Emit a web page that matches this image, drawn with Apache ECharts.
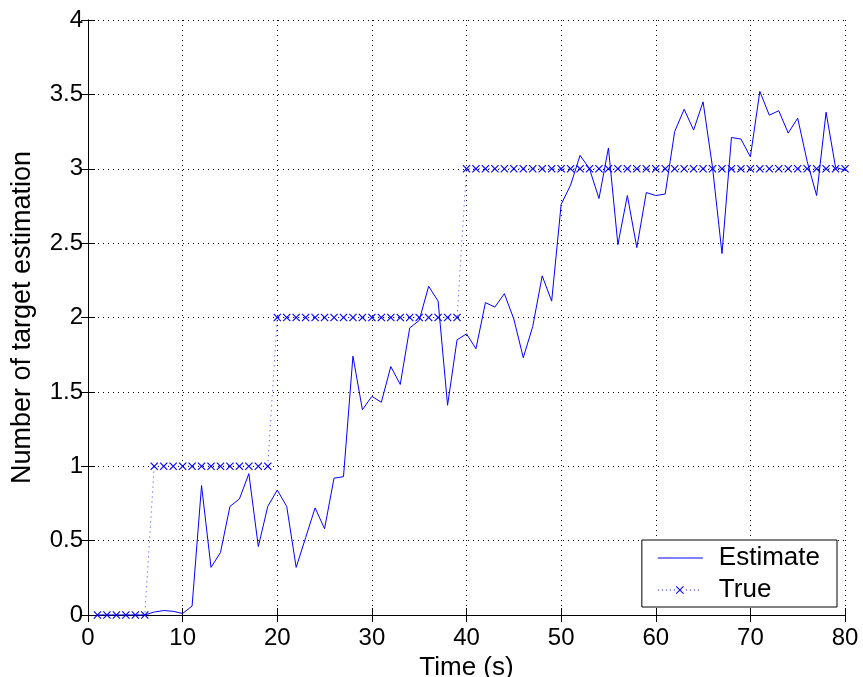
<!DOCTYPE html>
<html>
<head>
<meta charset="utf-8">
<script src="https://cdn.jsdelivr.net/npm/echarts@6/dist/echarts.min.js"></script>
<style>
  html, body { margin: 0; padding: 0; background: #fff; }
  #chart_targets { width: 863px; height: 677px; }
</style>
</head>
<body>
<div id="chart_targets"></div>
<script>
// time steps in seconds
var timeSteps = [];
for (var i = 1; i <= 80; i++) timeSteps.push(i);

var estimateValues = [
  0, 0, 0, 0, 0, 0, 0.02, 0.03, 0.025, 0.01,
  0.06, 0.87, 0.32, 0.42, 0.73, 0.78, 0.95, 0.46, 0.73, 0.84,
  0.73, 0.32, 0.52, 0.72, 0.58, 0.92, 0.93, 1.74, 1.38, 1.47,
  1.43, 1.67, 1.55, 1.93, 1.98, 2.21, 2.11, 1.41, 1.85, 1.89,
  1.79, 2.10, 2.07, 2.16, 1.99, 1.73, 1.94, 2.28, 2.11, 2.76,
  2.89, 3.09, 3.00, 2.80, 3.14, 2.49, 2.82, 2.47, 2.84, 2.82,
  2.83, 3.25, 3.40, 3.26, 3.45, 3.01, 2.43, 3.21, 3.20, 3.08,
  3.52, 3.36, 3.39, 3.24, 3.34, 3.05, 2.82, 3.38, 3.01, 2.99
];

var trueValues = [
  0, 0, 0, 0, 0, 0, 1, 1, 1, 1,
  1, 1, 1, 1, 1, 1, 1, 1, 1, 2,
  2, 2, 2, 2, 2, 2, 2, 2, 2, 2,
  2, 2, 2, 2, 2, 2, 2, 2, 2, 3,
  3, 3, 3, 3, 3, 3, 3, 3, 3, 3,
  3, 3, 3, 3, 3, 3, 3, 3, 3, 3,
  3, 3, 3, 3, 3, 3, 3, 3, 3, 3,
  3, 3, 3, 3, 3, 3, 3, 3, 3, 3
];

var seriesNames = ['Estimate', 'True'];

function pairs(vals) {
  return timeSteps.map(function (t, i) { return [t, vals[i]]; });
}

var crossPath = 'path://M0,1L1,0L5,4L9,0L10,1L6,5L10,9L9,10L5,6L1,10L0,9L4,5Z';
var fontFam = '"Liberation Sans", Arial, sans-serif';

// legend icons: 56x14 box, line drawn in the first 45 units, rest left empty
var iconW = 56, iconH = 14;
var corners = 'M0,0L0.01,0L0,0.01Z M' + iconW + ',' + iconH + 'L' + (iconW - 0.01) + ',' + iconH + 'L' + iconW + ',' + (iconH - 0.01) + 'Z ';
var estimateIcon = 'path://' + corners + 'M0,6.5L45,6.5L45,7.5L0,7.5Z';
var trueIcon = 'path://' + corners;
for (var d = 0; d <= 40; d += 4) {
  if (d > 16 && d < 28) continue;
  trueIcon += 'M' + d + ',6.5L' + (d + 1) + ',6.5L' + (d + 1) + ',7.5L' + d + ',7.5Z ';
}
trueIcon += 'M18,3.7L18.7,3L22,6.3L25.3,3L26,3.7L22.7,7L26,10.3L25.3,11L22,7.7L18.7,11L18,10.3L21.3,7Z';

var gridLine = { show: true, lineStyle: { color: '#000', type: [1, 4], width: 1 } };
var axisLine = { show: true, lineStyle: { color: '#000', width: 1 } };
var tick = { show: true, inside: true, length: 7, lineStyle: { color: '#000' } };

var myChart = echarts.init(document.getElementById('chart_targets'));

var option = {
  animation: false,
  backgroundColor: '#fff',
  grid: { left: 88, right: 18, top: 20, bottom: 62, outerBoundsMode: 'none', containLabel: false },
  legend: {
    data: [
      { name: seriesNames[0], icon: estimateIcon },
      { name: seriesNames[1], icon: trueIcon }
    ],
    orient: 'vertical',
    right: 26,
    bottom: 70,
    backgroundColor: '#fff',
    borderColor: '#000',
    borderWidth: 1,
    borderRadius: 0,
    padding: [5, 17, 4, 16],
    itemWidth: iconW,
    itemHeight: iconH,
    itemGap: 6,
    textStyle: { fontFamily: fontFam, fontSize: 26, lineHeight: 26, color: '#000' }
  },
  xAxis: [
    {
      type: 'value', min: 0, max: 80, interval: 10,
      name: 'Time (s)', nameLocation: 'middle', nameGap: 32,
      nameTextStyle: { fontFamily: fontFam, fontSize: 26, color: '#000' },
      axisLine: axisLine, axisTick: tick, splitLine: gridLine,
      axisLabel: { fontFamily: fontFam, fontSize: 24, color: '#000', margin: 11 }
    },
    {
      type: 'value', min: 0, max: 80, interval: 10, position: 'top',
      axisLine: axisLine, axisTick: tick, splitLine: { show: false },
      axisLabel: { show: false }
    }
  ],
  yAxis: [
    {
      type: 'value', min: 0, max: 4, interval: 0.5,
      name: 'Number of target estimation', nameLocation: 'middle', nameGap: 52,
      nameTextStyle: { fontFamily: fontFam, fontSize: 27, color: '#000' },
      axisLine: axisLine, axisTick: tick, splitLine: gridLine,
      axisLabel: { fontFamily: fontFam, fontSize: 24, color: '#000', margin: 5 }
    },
    {
      type: 'value', min: 0, max: 4, interval: 0.5, position: 'right',
      axisLine: axisLine, axisTick: tick, splitLine: { show: false },
      axisLabel: { show: false }
    }
  ],
  series: [
    {
      name: seriesNames[0],
      type: 'line',
      data: pairs(estimateValues),
      showSymbol: false,
      symbol: 'none',
      itemStyle: { color: '#0000ff' },
      lineStyle: { color: '#0000ff', width: 1 },
      z: 3
    },
    {
      name: seriesNames[1],
      type: 'line',
      data: pairs(trueValues),
      symbol: crossPath,
      symbolSize: 8,
      itemStyle: { color: '#0000ff' },
      lineStyle: { color: '#0000ff', width: 1, type: [1, 4], opacity: 0.8 },
      z: 4
    }
  ]
};

myChart.setOption(option);
window.addEventListener('resize', function () {
  myChart.resize();
});
</script>
</body>
</html>
